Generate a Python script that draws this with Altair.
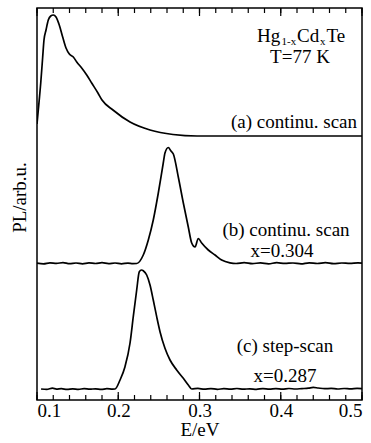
import altair as alt
import pandas as pd

# ---- data (E in eV, PL in stacked arbitrary units) ----
E_a = [0.1000, 0.1016, 0.1046, 0.1070, 0.1086, 0.1111, 0.1139, 0.1169, 0.1201,
       0.1234, 0.1274, 0.1316, 0.1357, 0.1398, 0.1447, 0.1489, 0.1550, 0.1612,
       0.1673, 0.1750, 0.1800, 0.1935, 0.2145, 0.2391, 0.2674, 0.2970, 0.3500,
       0.4000, 0.4500, 0.5000]
PL_a = [2.76, 2.90, 3.17, 3.43, 3.60, 3.70, 3.80, 3.84, 3.85,
        3.83, 3.75, 3.63, 3.52, 3.46, 3.43, 3.38, 3.32, 3.25,
        3.17, 3.07, 3.00, 2.90, 2.78, 2.70, 2.655, 2.64, 2.64,
        2.64, 2.64, 2.64]

E_b = [0.100, 0.108, 0.116, 0.124, 0.132, 0.140, 0.148, 0.156, 0.164, 0.172,
       0.180, 0.188, 0.196, 0.204, 0.212, 0.218, 0.2227, 0.2308, 0.2370, 0.2431,
       0.2493, 0.2554, 0.2575, 0.2616, 0.2649, 0.2678, 0.2739, 0.2801, 0.2862,
       0.2904, 0.2945, 0.2985, 0.3027, 0.3108, 0.3191, 0.3273, 0.3375, 0.345,
       0.355, 0.365, 0.375, 0.385, 0.395, 0.405, 0.415, 0.425, 0.435, 0.445,
       0.455, 0.465, 0.475, 0.485, 0.495, 0.500]
PL_b = [1.368, 1.362, 1.372, 1.366, 1.374, 1.363, 1.370, 1.362, 1.371, 1.365,
        1.373, 1.364, 1.370, 1.362, 1.369, 1.364, 1.365, 1.45, 1.60, 1.80,
        2.07, 2.37, 2.47, 2.525, 2.49, 2.46, 2.23, 1.97, 1.73,
        1.57, 1.53, 1.615, 1.57, 1.50, 1.45, 1.40, 1.372, 1.365,
        1.374, 1.364, 1.371, 1.362, 1.373, 1.366, 1.370, 1.361, 1.372, 1.365,
        1.373, 1.363, 1.370, 1.366, 1.372, 1.368]

E_c = [0.105, 0.112, 0.119, 0.124, 0.130, 0.137, 0.144, 0.151, 0.158, 0.165,
       0.172, 0.179, 0.186, 0.193, 0.196, 0.2022, 0.2083, 0.2145, 0.2185, 0.2227,
       0.2259, 0.2286, 0.2308, 0.2350, 0.2391, 0.2431, 0.2473, 0.2514, 0.2575,
       0.2637, 0.2719, 0.2801, 0.2862, 0.2904, 0.298, 0.306, 0.314, 0.322,
       0.330, 0.338, 0.346, 0.354, 0.362, 0.370, 0.378, 0.386, 0.394, 0.402,
       0.410, 0.418, 0.426, 0.434, 0.440, 0.446, 0.454, 0.462, 0.470, 0.478,
       0.486, 0.494, 0.500]
PL_c = [0.110, 0.106, 0.118, 0.109, 0.113, 0.106, 0.112, 0.107, 0.113, 0.108,
        0.112, 0.106, 0.113, 0.109, 0.110, 0.20, 0.333, 0.57, 0.833, 1.10,
        1.283, 1.30, 1.293, 1.25, 1.15, 1.00, 0.833, 0.683, 0.517,
        0.40, 0.30, 0.217, 0.15, 0.11, 0.116, 0.108, 0.114, 0.107,
        0.113, 0.109, 0.115, 0.108, 0.112, 0.107, 0.114, 0.109, 0.113, 0.108,
        0.115, 0.110, 0.114, 0.118, 0.126, 0.120, 0.113, 0.116, 0.110, 0.115,
        0.111, 0.116, 0.113]

TICK_MINOR = [0.10, 0.12, 0.14, 0.16, 0.18, 0.20, 0.22, 0.24, 0.26, 0.28, 0.30,
              0.32, 0.34, 0.36, 0.38, 0.40, 0.42, 0.44, 0.46, 0.48, 0.50]
TICK_MAJOR = [0.1, 0.2, 0.3, 0.4, 0.5]

FONT = "Liberation Serif"

df = pd.concat([
    pd.DataFrame({"E": E_a, "PL": PL_a, "series": "a"}),
    pd.DataFrame({"E": E_b, "PL": PL_b, "series": "b"}),
    pd.DataFrame({"E": E_c, "PL": PL_c, "series": "c"}),
], ignore_index=True)

x_axis = alt.Axis(values=TICK_MAJOR, format=".1f", grid=False, domain=False,
                  ticks=False, tickSize=0, labelFont=FONT, labelFontSize=19,
                  labelColor="black", labelBaseline="alphabetic", labelPadding=16,
                  title="E/eV", titleFont=FONT, titleFontSize=19,
                  titleFontWeight="normal", titleColor="black",
                  titleBaseline="alphabetic", titleY=35)
x_enc = alt.X("E:Q", scale=alt.Scale(domain=[0.1, 0.5], nice=False, zero=False),
              axis=x_axis)
y_enc = alt.Y("PL:Q", scale=alt.Scale(domain=[0, 3.92], nice=False, zero=False),
              axis=alt.Axis(labels=False, ticks=False, tickSize=0, domain=False,
                            grid=False, title="PL/arb.u.", titleFont=FONT,
                            titleFontSize=19, titleFontWeight="normal",
                            titleColor="black", titleAngle=270,
                            titleBaseline="alphabetic", titleAlign="center",
                            titleX=-12, titleY=189))

lines = alt.Chart(df).mark_line(color="black", strokeWidth=1.7,
                                interpolate="monotone", clip=True).encode(
    x=x_enc, y=y_enc, detail="series:N")

minor_df = pd.DataFrame({"E": TICK_MINOR})
major_df = pd.DataFrame({"E": TICK_MAJOR})

tick_layers = []
for d, ln in ((minor_df, 5), (major_df, 8)):
    tick_layers.append(alt.Chart(d).mark_rule(color="black", strokeWidth=1.2).encode(
        x=x_enc, y=alt.value(392), y2=alt.value(392 - ln)))
    tick_layers.append(alt.Chart(d).mark_rule(color="black", strokeWidth=1.2).encode(
        x=x_enc, y=alt.value(0), y2=alt.value(ln)))


def label(txt, x, y, size=19, align="center"):
    return alt.Chart(alt.Data(values=[{}])).mark_text(
        text=txt, font=FONT, fontSize=size, color="black", align=align,
        baseline="alphabetic").encode(x=alt.value(x), y=alt.value(y))


texts = [
    label("Hg", 220, 34, align="left"),
    label("1-x", 244.5, 37, size=11, align="left"),
    label("Cd", 260, 34, align="left"),
    label("x", 283, 37, size=11, align="left"),
    label("Te", 289.5, 34, align="left"),
    label("T=77 K", 263, 55),
    label("(a) continu. scan", 257, 120),
    label("(b) continu. scan", 249, 228),
    label("x=0.304", 245, 249),
    label("(c) step-scan", 248, 344),
    label("x=0.287", 248, 374),
]

chart = alt.layer(lines, *tick_layers, *texts).properties(
    width=325, height=392,
    padding={"left": 37, "top": 8, "right": 9, "bottom": 43},
    autosize=alt.AutoSizeParams(type="none"),
    background="white",
).configure_view(stroke="black", strokeWidth=1.5)

chart.save("out.html", embed_options={"renderer": "svg", "actions": False})
